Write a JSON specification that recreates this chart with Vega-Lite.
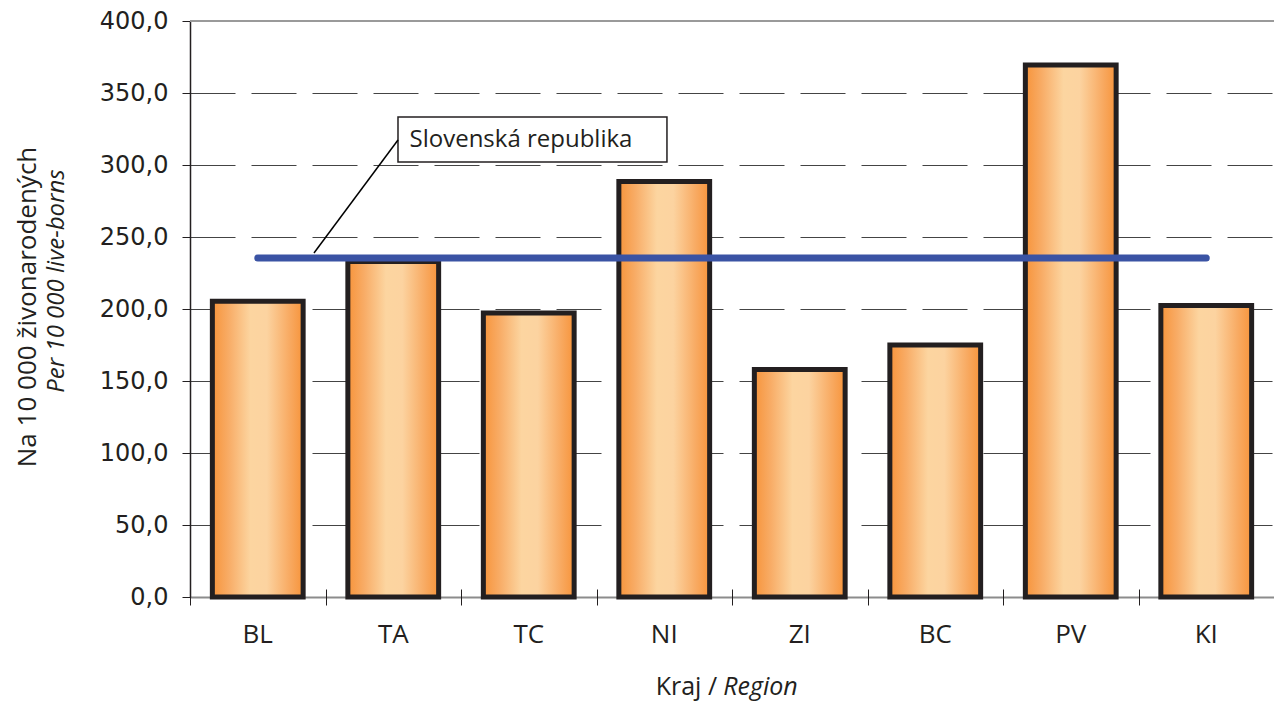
{
  "$schema": "https://vega.github.io/schema/vega-lite/v6.json",
  "width": 1084,
  "height": 576,
  "autosize": {"type": "none"},
  "padding": {"left": 190, "top": 21, "right": 0, "bottom": 107},
  "background": "white",
  "config": {"view": {"stroke": null}, "font": "Open Sans", "text": {"font": "Open Sans", "color": "#231F20"}},
  "datasets": {
    "regions": [
      {"kraj": "BL", "hodnota": 205.3, "sr": 235.4},
      {"kraj": "TA", "hodnota": 233.0, "sr": 235.4},
      {"kraj": "TC", "hodnota": 197.2, "sr": 235.4},
      {"kraj": "NI", "hodnota": 288.5, "sr": 235.4},
      {"kraj": "ZI", "hodnota": 158.0, "sr": 235.4},
      {"kraj": "BC", "hodnota": 175.0, "sr": 235.4},
      {"kraj": "PV", "hodnota": 369.4, "sr": 235.4},
      {"kraj": "KI", "hodnota": 202.5, "sr": 235.4}
    ],
    "box": [{"x": 1.535, "x2": 3.52, "y": 302, "y2": 333.3}],
    "leader": [{"x": 0.915, "x2": 1.535, "y": 238.9, "y2": 317.4}],
    "label": [{"x": 1.62, "y": 317.6, "t": "Slovenská republika"}],
    "xtitle1": [{"x": 3.89, "y": -62.5, "t": "Kraj /"}],
    "xtitle2": [{"x": 3.935, "y": -62.5, "t": "Region"}],
    "ytitle1": [{"x": -1.196, "y": 201.4, "t": "Na 10 000 živonarodených"}],
    "ytitle2": [{"x": -0.982, "y": 219.4, "t": "Per 10 000 live-borns"}]
  },
  "layer": [
    {
      "data": {"name": "regions"},
      "layer": [
        {
          "mark": {
            "type": "bar",
            "stroke": "#231F20",
            "strokeWidth": 5,
            "fill": {
              "gradient": "linear", "x1": 0, "y1": 0, "x2": 1, "y2": 0,
              "stops": [
                {"offset": 0, "color": "#F7943B"},
                {"offset": 0.18, "color": "#F8AC66"},
                {"offset": 0.42, "color": "#FCD5A0"},
                {"offset": 0.6, "color": "#FCD3A0"},
                {"offset": 0.85, "color": "#F8AA62"},
                {"offset": 1, "color": "#F7943B"}
              ]
            }
          },
          "encoding": {
            "x": {
              "field": "kraj", "type": "nominal", "sort": null,
              "scale": {"paddingInner": 0.33, "paddingOuter": 0.165},
              "axis": {
                "title": null, "ticks": false, "domainColor": "#8C8C8C", "domainWidth": 2,
                "labelAngle": 0, "labelFontSize": 26, "labelColor": "#231F20", "labelPadding": 24,
                "labelFont": "Open Sans"
              }
            },
            "y": {
              "field": "hodnota", "type": "quantitative",
              "scale": {"domain": [0, 400], "nice": false},
              "axis": {
                "title": null, "values": [0, 50, 100, 150, 200, 250, 300, 350, 400],
                "labelExpr": "replace(format(datum.value, '.1f'), '.', ',')",
                "labelFontSize": 24, "labelColor": "#231F20", "labelPadding": 14, "labelFont": "DejaVu Sans",
                "tickSize": 8, "tickColor": "#231F20", "tickWidth": 1,
                "domainColor": "#231F20", "domainWidth": 1.5,
                "grid": true, "gridColor": "#444444", "gridWidth": 1, "gridDash": [45, 16]
              }
            }
          }
        },
        {
          "mark": {"type": "rule", "color": "#9A9A9A", "strokeWidth": 2},
          "encoding": {"y": {"datum": 400}}
        },
        {
          "mark": {"type": "line", "color": "#3A53A4", "strokeWidth": 7, "strokeCap": "round"},
          "encoding": {
            "x": {"field": "kraj", "type": "nominal", "sort": null},
            "y": {"field": "sr", "type": "quantitative"}
          }
        }
      ]
    },
    {
      "layer": [
        {
          "data": {"name": "box"},
          "mark": {"type": "rect", "fill": "white", "stroke": "#231F20", "strokeWidth": 1.5},
          "encoding": {
            "x": {
              "field": "x", "type": "quantitative",
              "scale": {"domain": [0, 8], "nice": false, "zero": false},
              "axis": {
                "orient": "bottom", "values": [0, 1, 2, 3, 4, 5, 6, 7, 8], "title": null,
                "labels": false, "domain": false, "grid": false,
                "tickSize": 16, "offset": -8, "tickColor": "#231F20", "tickWidth": 1
              }
            },
            "x2": {"field": "x2"},
            "y": {"field": "y", "type": "quantitative", "scale": {"domain": [0, 400], "nice": false}, "axis": null},
            "y2": {"field": "y2"}
          }
        },
        {
          "data": {"name": "leader"},
          "mark": {"type": "rule", "color": "#000000", "strokeWidth": 1.5},
          "encoding": {
            "x": {"field": "x", "type": "quantitative"},
            "x2": {"field": "x2"},
            "y": {"field": "y", "type": "quantitative", "axis": null},
            "y2": {"field": "y2"}
          }
        },
        {
          "data": {"name": "label"},
          "mark": {"type": "text", "align": "left", "baseline": "middle", "fontSize": 24},
          "encoding": {
            "x": {"field": "x", "type": "quantitative"},
            "y": {"field": "y", "type": "quantitative", "axis": null},
            "text": {"field": "t"}
          }
        },
        {
          "data": {"name": "xtitle1"},
          "mark": {"type": "text", "align": "right", "baseline": "middle", "fontSize": 25},
          "encoding": {
            "x": {"field": "x", "type": "quantitative"},
            "y": {"field": "y", "type": "quantitative", "axis": null},
            "text": {"field": "t"}
          }
        },
        {
          "data": {"name": "xtitle2"},
          "mark": {"type": "text", "align": "left", "baseline": "middle", "fontSize": 25, "fontStyle": "italic"},
          "encoding": {
            "x": {"field": "x", "type": "quantitative"},
            "y": {"field": "y", "type": "quantitative", "axis": null},
            "text": {"field": "t"}
          }
        },
        {
          "data": {"name": "ytitle1"},
          "mark": {"type": "text", "align": "center", "baseline": "middle", "fontSize": 26, "angle": 270},
          "encoding": {
            "x": {"field": "x", "type": "quantitative"},
            "y": {"field": "y", "type": "quantitative", "axis": null},
            "text": {"field": "t"}
          }
        },
        {
          "data": {"name": "ytitle2"},
          "mark": {"type": "text", "align": "center", "baseline": "middle", "fontSize": 24, "angle": 270, "fontStyle": "italic"},
          "encoding": {
            "x": {"field": "x", "type": "quantitative"},
            "y": {"field": "y", "type": "quantitative", "axis": null},
            "text": {"field": "t"}
          }
        }
      ]
    }
  ],
  "resolve": {"scale": {"x": "independent", "y": "independent"}, "axis": {"x": "independent", "y": "independent"}}
}
